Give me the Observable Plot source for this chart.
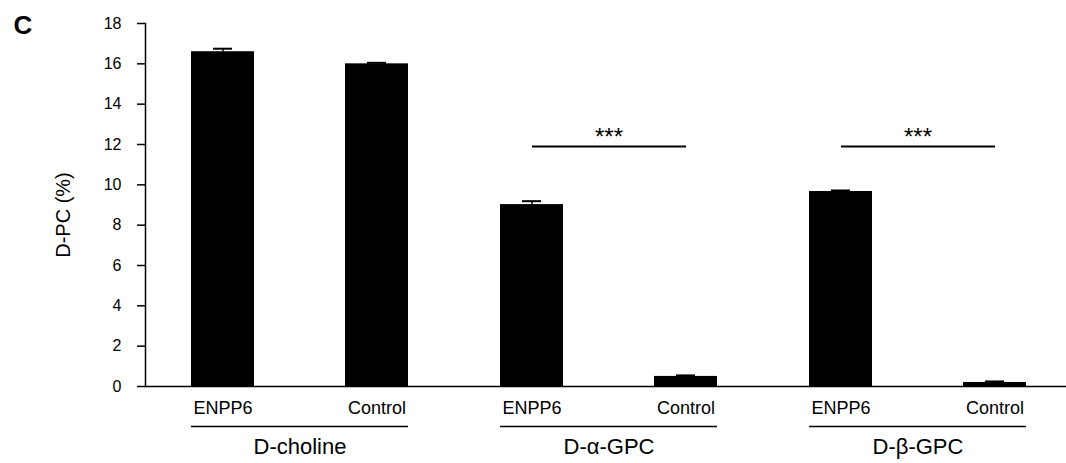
<!DOCTYPE html>
<html>
<head>
<meta charset="utf-8">
<script src="https://cdn.jsdelivr.net/npm/d3@7"></script>
<script src="https://cdn.jsdelivr.net/npm/@observablehq/plot@0.6"></script>
<style>
  html, body { margin: 0; padding: 0; background: white; }
</style>
</head>
<body>
<div id="chart"></div>
<script>
const groups = ["D-choline", "D-α-GPC", "D-β-GPC"];
const conditions = ["ENPP6", "Control"];
const values = [16.6, 16.0, 9.02, 0.5, 9.67, 0.2];
const errors = [0.15, 0.05, 0.17, 0.05, 0.05, 0.05];
const yTicks = [0, 2, 4, 6, 8, 10, 12, 14, 16, 18];
const sigGroups = ["D-α-GPC", "D-β-GPC"];
const sigValues = [11.9, 11.9];
const sigLabel = "***";
const yLabel = "D-PC (%)";
const panelLabel = "C";

const data = values.map((v, i) => ({
  group: groups[Math.floor(i / 2)],
  condition: conditions[i % 2],
  value: v,
  err: errors[i]
}));
const sig = sigGroups.map((g, i) => ({group: g, y: sigValues[i]}));

const chart = Plot.plot({
  width: 1066,
  height: 463,
  marginLeft: 144,
  marginRight: -6,
  marginTop: 23,
  marginBottom: 77,
  style: {fontFamily: "'Liberation Sans', Arial, sans-serif", fontSize: "16px", color: "black", background: "white"},
  fx: {domain: groups, axis: null, padding: 0},
  x: {domain: conditions, axis: null, paddingInner: 0.59, paddingOuter: 0.295},
  y: {domain: [0, 18]},
  marks: [
    Plot.barY(data, {fx: "group", x: "condition", y: "value", fill: "black"}),
    Plot.ruleX(data, {fx: "group", x: "condition", y1: "value", y2: d => d.value + d.err, stroke: "black", strokeWidth: 1.5}),
    Plot.tickY(data, {fx: "group", x: "condition", y: d => d.value + d.err, insetLeft: 22, insetRight: 22, stroke: "black", strokeWidth: 2}),
    Plot.ruleY([0], {stroke: "black", strokeWidth: 1.5}),
    Plot.axisY({ticks: yTicks, tickSize: 8, tickPadding: 16, fontSize: 16, label: null, strokeWidth: 1.5}),
    Plot.frame({anchor: "left", facetAnchor: "left", stroke: "black", strokeWidth: 1.5}),
    Plot.text(data, {fx: "group", x: "condition", text: "condition", frameAnchor: "bottom", lineAnchor: "middle", dy: 22, fontSize: 18}),
    Plot.ruleY(groups, {fx: d => d, x1: () => conditions[0], x2: () => conditions[1], y: () => 0, dy: 40, stroke: "black", strokeWidth: 1.5}),
    Plot.text(groups, {fx: d => d, text: d => d, frameAnchor: "bottom", lineAnchor: "middle", dy: 60, fontSize: 22}),
    Plot.link(sig, {fx: "group", x1: () => conditions[0], x2: () => conditions[1], y1: "y", y2: "y", stroke: "black", strokeWidth: 2}),
    Plot.text(sig, {fx: "group", y: "y", text: () => sigLabel, lineAnchor: "middle", dy: -9, fontSize: 24}),
    Plot.text([yLabel], {fx: () => groups[0], text: d => d, frameAnchor: "left", textAnchor: "middle", rotate: -90, lineAnchor: "middle", dx: -82, dy: 10, fontSize: 20}),
    Plot.text([panelLabel], {fx: () => groups[0], text: d => d, frameAnchor: "top-left", textAnchor: "start", lineAnchor: "top", dx: -132, dy: -8, fontSize: 26, fontWeight: "bold"})
  ]
});
document.getElementById("chart").appendChild(chart);
</script>
</body>
</html>
